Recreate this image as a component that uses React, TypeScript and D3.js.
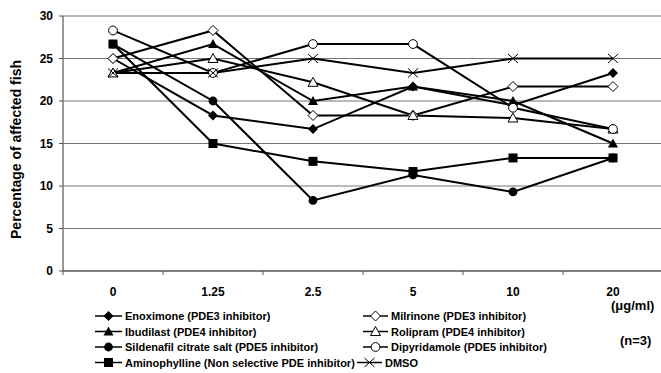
import React from "react";
import * as d3 from "d3";

// doses (µg/ml)
const doses = ["0", "1.25", "2.5", "5", "10", "20"];
const yTicks = [0, 5, 10, 15, 20, 25, 30];

// % affected fish per dose
const enoximone = [25, 18.3, 16.7, 21.7, 19.5, 23.3];
const milrinone = [25, 28.3, 18.3, 18.3, 21.7, 21.7];
const ibudilast = [23.3, 26.7, 20, 21.7, 20, 15];
const rolipram = [23.3, 25, 22.2, 18.3, 18, 16.7];
const sildenafil = [26.7, 20, 8.3, 11.3, 9.3, 13.3];
const dipyridamole = [28.3, 23.3, 26.7, 26.7, 19.2, 16.7];
const aminophylline = [26.7, 15, 12.9, 11.7, 13.3, 13.3];
const dmso = [23.3, 23.3, 25, 23.3, 25, 25];

const seriesNames = [
  "Enoximone (PDE3 inhibitor)",
  "Milrinone (PDE3 inhibitor)",
  "Ibudilast (PDE4 inhibitor)",
  "Rolipram (PDE4 inhibitor)",
  "Sildenafil citrate salt (PDE5 inhibitor)",
  "Dipyridamole (PDE5 inhibitor)",
  "Aminophylline (Non selective PDE inhibitor)",
  "DMSO",
];
const seriesMarkers = ["diamond", "diamondOpen", "triangle", "triangleOpen", "circle", "circleOpen", "square", "cross"];
const seriesValues = [enoximone, milrinone, ibudilast, rolipram, sildenafil, dipyridamole, aminophylline, dmso];

const FONT = "'Liberation Sans', Arial, sans-serif";

function Marker({ kind, x, y }: { kind: string; x: number; y: number }) {
  const open = kind.endsWith("Open");
  const fill = open ? "#fff" : "#000";
  const sw = open ? 1 : 0;
  if (kind.startsWith("diamond")) {
    return (
      <path
        d={`M${x},${y - 5}L${x + 5},${y}L${x},${y + 5}L${x - 5},${y}Z`}
        fill={fill}
        stroke="#000"
        strokeWidth={sw}
      />
    );
  }
  if (kind.startsWith("triangle")) {
    return (
      <path
        d={`M${x},${y - 5}L${x + 5},${y + 4}L${x - 5},${y + 4}Z`}
        fill={fill}
        stroke="#000"
        strokeWidth={sw}
      />
    );
  }
  if (kind.startsWith("circle")) {
    return <circle cx={x} cy={y} r={4.4} fill={fill} stroke="#000" strokeWidth={sw} />;
  }
  if (kind === "square") {
    return <rect x={x - 4.5} y={y - 4.5} width={9} height={9} fill="#000" />;
  }
  // cross
  return (
    <path
      d={`M${x - 5},${y - 4.5}L${x + 5},${y + 4.5}M${x - 5},${y + 4.5}L${x + 5},${y - 4.5}`}
      stroke="#000"
      strokeWidth={1}
      fill="none"
    />
  );
}

export default function App() {
  const width = 661;
  const height = 373;
  const left = 63;
  const right = 663;
  const top = 16;
  const bottom = 271;

  const x = d3.scaleBand().domain(doses).range([left, right]);
  const y = d3.scaleLinear().domain([0, 30]).range([bottom, top]);
  const cx = (d: string) => (x(d) || 0) + x.bandwidth() / 2;

  const line = d3
    .line<number>()
    .x((_, i) => cx(doses[i]))
    .y((v) => y(v));

  const legendRows = [316, 331.5, 347, 362.5];

  return (
    <svg
      width={width}
      height={height}
      style={{ position: "absolute", left: 0, top: 0, background: "#fff" }}
      fontFamily={FONT}
      fontWeight="bold"
    >
      {/* gridlines */}
      {yTicks
        .filter((t) => t > 0)
        .map((t) => (
          <line key={t} x1={left} x2={width} y1={y(t)} y2={y(t)} stroke="#777" strokeWidth={1.2} />
        ))}
      {/* axes */}
      <line x1={left} x2={left} y1={top} y2={bottom} stroke="#777" strokeWidth={1.5} />
      <line x1={left} x2={width} y1={bottom} y2={bottom} stroke="#555" strokeWidth={1.5} />
      {yTicks.map((t) => (
        <g key={t}>
          <line x1={left - 4} x2={left} y1={y(t)} y2={y(t)} stroke="#555" />
          <text x={left - 10} y={y(t) + 4} textAnchor="end" fontSize={12}>
            {t}
          </text>
        </g>
      ))}
      {doses.map((d) => (
        <g key={d}>
          <line x1={x(d)} x2={x(d)} y1={bottom} y2={bottom + 4} stroke="#555" />
          <text x={cx(d)} y={296} textAnchor="middle" fontSize={12}>
            {d}
          </text>
        </g>
      ))}
      <text x={611} y={310} fontSize={13}>
        (μg/ml)
      </text>
      <text x={620} y={345} fontSize={13}>
        (n=3)
      </text>
      <text
        transform={`translate(21,${(top + bottom) / 2 + 6}) rotate(-90)`}
        textAnchor="middle"
        fontSize={14}
      >
        Percentage of affected fish
      </text>

      {/* series */}
      {seriesValues.map((vals, si) => (
        <path key={si} d={line(vals) || ""} fill="none" stroke="#000" strokeWidth={2} />
      ))}
      {seriesValues.map((vals, si) =>
        vals.map((v, i) => <Marker key={`${si}-${i}`} kind={seriesMarkers[si]} x={cx(doses[i])} y={y(v)} />)
      )}

      {/* legend */}
      {seriesNames.map((name, i) => {
        const col = i % 2;
        const row = Math.floor(i / 2);
        const ly = legendRows[row];
        const isLast = i === seriesNames.length - 1;
        const x0 = col === 0 ? 95 : isLast ? 357 : 363;
        const lw = col === 0 ? 27 : 25;
        return (
          <g key={name}>
            <line x1={x0} x2={x0 + lw} y1={ly} y2={ly} stroke="#000" strokeWidth={1.5} />
            <Marker kind={seriesMarkers[i]} x={x0 + lw / 2} y={ly} />
            <text x={x0 + lw + 3} y={ly + 4} fontSize={11}>
              {name}
            </text>
          </g>
        );
      })}
    </svg>
  );
}
